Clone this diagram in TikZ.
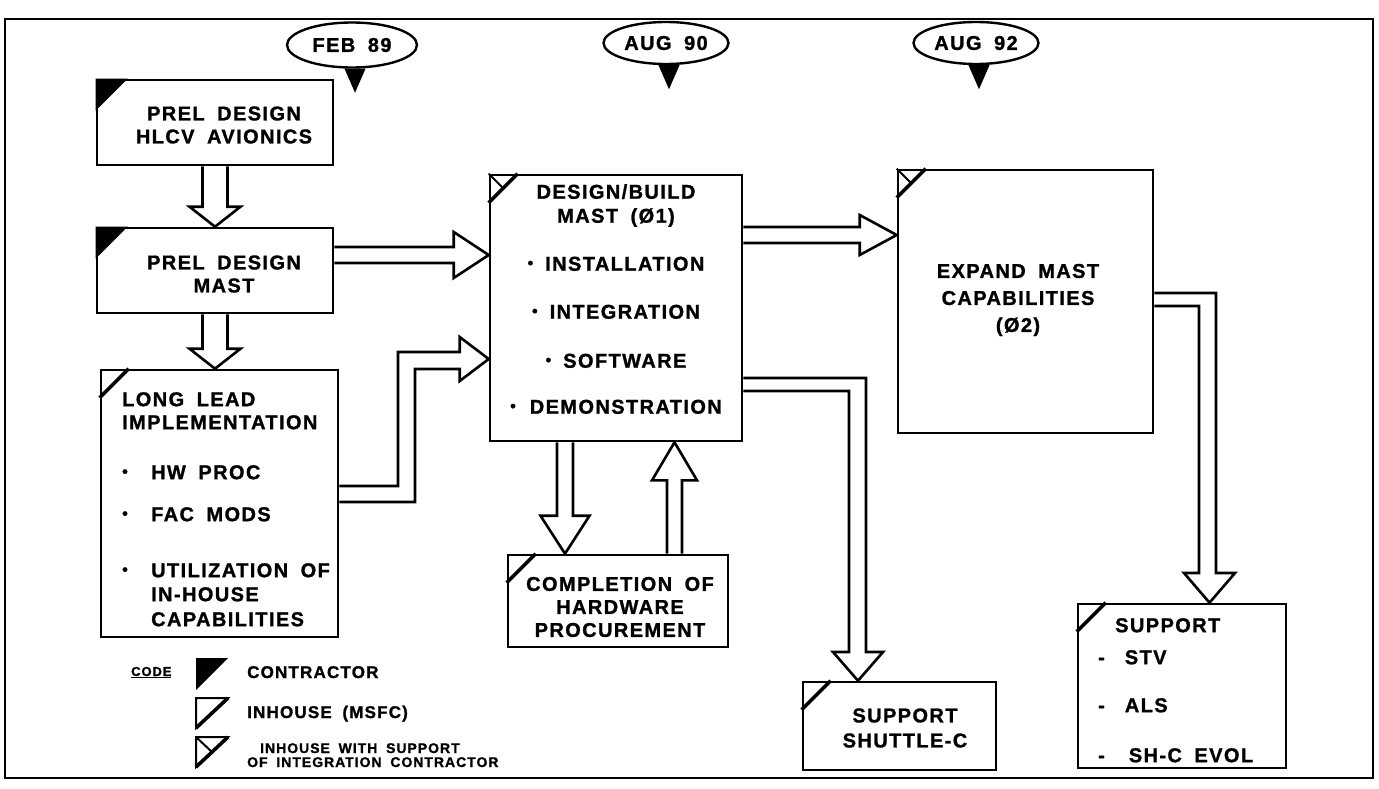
\documentclass[tikz,border=0pt]{standalone}
\usepackage{fontspec}
\setmainfont{Liberation Sans}[LetterSpace=7,WordSpace=1.8,BoldFeatures={FakeBold=1.2}]
\usetikzlibrary{calc,shapes.geometric}
\newcommand\bul{\raisebox{0.22ex}{\scalebox{0.8}{\textbullet}}}
\tikzset{
  frame/.style={line width=2.4pt},
  box/.style={draw, line width=2.6pt, inner sep=0pt},
  txt/.style={inner sep=0pt, font=\bfseries\fontsize{20}{23}\selectfont},
  stxt/.style={inner sep=0pt, font=\bfseries\fontsize{20}{25}\selectfont},
  ltxt/.style={inner sep=0pt, anchor=base west, font=\bfseries\fontsize{17}{20}\selectfont},
  mtxt/.style={inner sep=0pt, anchor=base west, font=\bfseries\fontsize{14}{16}\selectfont},
  mile/.style={draw, fill=white, ellipse, line width=2.4pt, inner sep=0pt, font=\bfseries\fontsize{20}{20}\selectfont},
  hyp/.style={line width=3.6pt},
  thin/.style={line width=2pt},
  harrow/.style={line width=2.6pt, line join=miter},
  hollow/.style n args={3}{to path={
    let \p1=(\tikztostart), \p2=(\tikztotarget),
        \n1={atan2(\y2-\y1,\x2-\x1)}, \n2={veclen(\x2-\x1,\y2-\y1)} in
    ([shift={(\p1)},rotate=\n1]0pt,#1pt)
    -- ([shift={(\p1)},rotate=\n1]\n2-#3pt,#1pt)
    -- ([shift={(\p1)},rotate=\n1]\n2-#3pt,#2pt)
    -- ([shift={(\p1)},rotate=\n1]\n2,0pt)
    -- ([shift={(\p1)},rotate=\n1]\n2-#3pt,-#2pt)
    -- ([shift={(\p1)},rotate=\n1]\n2-#3pt,-#1pt)
    -- ([shift={(\p1)},rotate=\n1]0pt,-#1pt)
  }},
}
\begin{document}
\begin{tikzpicture}[x=1pt,y=-1pt]
\useasboundingbox (0,0) rectangle (1379,788);
\fill[white] (0,0) rectangle (1379,788);
\draw[frame] (5,19) rectangle (1373,778);

% milestones
\node[mile, minimum width=130pt, minimum height=45pt] (m1) at (352,45) {FEB 89};
\node[mile, minimum width=125pt, minimum height=42pt] (m2) at (666,43) {AUG 90};
\node[mile, minimum width=125pt, minimum height=42pt] (m3) at (976,43) {AUG 92};
\foreach \m in {m1,m2,m3}{
  \draw[thin] ($(\m.south)+(3,0)$) -- ($(\m.south)+(3,0)$ |- 0,79) coordinate (\m a);
  \fill ($(\m a)+(-10.5,0)$) -- ($(\m a)+(10.5,0)$) -- ($(\m a)+(0,24)$) -- cycle;
}

% boxes
\node[box, minimum width=236pt, minimum height=85pt] (b1) at (215,122.5) {};
\node[box, minimum width=236pt, minimum height=85pt] (b2) at (215,270.5) {};
\node[box, minimum width=237pt, minimum height=267pt] (b3) at (219.5,503.5) {};
\node[box, minimum width=252pt, minimum height=266pt] (b4) at (616,308) {};
\node[box, minimum width=255pt, minimum height=263pt] (b5) at (1025.5,301.5) {};
\node[box, minimum width=220pt, minimum height=92pt] (b6) at (618,601) {};
\node[box, minimum width=193pt, minimum height=88pt] (b7) at (899.5,726) {};
\node[box, minimum width=208pt, minimum height=164pt] (b8) at (1182,686) {};

% corner codes
\foreach \b in {b1,b2}{
  \fill (\b.north west) -- ++(32,0) -- ++(-32,32) -- cycle;
}
\foreach \b in {b3,b6,b7,b8,b4,b5}{
  \draw[hyp] ($(\b.north west)+(29,0)$) -- ($(\b.north west)+(0,29)$);
}
\foreach \b in {b4,b5}{
  \draw[thin] (\b.north west) -- ++(14,14);
}

% texts
\node[txt, align=center] (t1) at (224,125) {PREL DESIGN\\HLCV AVIONICS};
\node[txt, align=center] (t2) at (224,274) {PREL DESIGN\\MAST};
\node[txt, anchor=north west, align=left] (t3) at (122,392) {LONG LEAD\\IMPLEMENTATION\\[27pt]%
\makebox[29pt][l]{\bul}HW PROC\\[19pt]%
\makebox[29pt][l]{\bul}FAC MODS\\[33pt]%
\makebox[29pt][l]{\bul}UTILIZATION OF\\[1pt]%
\hspace*{29pt}IN-HOUSE\\[2pt]%
\hspace*{29pt}CAPABILITIES};
\node[txt, anchor=north, align=center] (t4) at (616,184) {DESIGN/BUILD\\[1pt]MAST (Ø1)\\[25pt]%
\bul\hspace{12pt}INSTALLATION\\[25pt]%
\bul\hspace{12pt}INTEGRATION\\[26pt]%
\bul\hspace{12pt}SOFTWARE\\[23pt]%
\bul\hspace{14pt}DEMONSTRATION};
\node[txt, align=center] (t5) at (1018,300) {EXPAND MAST\\[4pt]CAPABILITIES\\[4pt](Ø2)};
\node[txt, align=center] (t6) at (620,607) {COMPLETION OF\\HARDWARE\\PROCUREMENT};
\node[stxt, align=center] (t7) at (905,728) {SUPPORT\\SHUTTLE-C};
\node[stxt, anchor=north west, align=left, font=\bfseries\fontsize{20}{21}\selectfont] (t8) at (1098,618) {\hspace*{17pt}SUPPORT\\[11pt]%
-\hspace{20pt}STV\\[27pt]%
-\hspace{20pt}ALS\\[29pt]%
-\hspace{24pt}SH-C EVOL};

% hollow arrows
\draw[harrow] (b1.south) to[hollow={12.5}{25.5}{20}] (b2.north);
\draw[harrow] (b2.south) to[hollow={12.5}{25.5}{20}] (b2.south |- b3.north);
\draw[harrow] (b2.east |- 0,255) to[hollow={8}{23}{35}] (b4.west |- 0,255);
\draw[harrow] (b4.east |- 0,235) to[hollow={8}{20}{37}] (b5.west |- 0,235);
\draw[harrow] (b4.south -| 565,0) to[hollow={8}{24.5}{38}] (b6.north -| 565,0);
\draw[harrow] (b6.north -| 674.5,0) to[hollow={7.5}{22.5}{38}] (b4.south -| 674.5,0);

\coordinate (a4s) at (b3.east |- 0,494);
\coordinate (a4t) at (b4.west |- 0,359);
\draw[harrow] ($(a4s)+(0,-8)$) -- (398,486) -- (398,352) -- ($(a4t)+(-29,-7)$) -- ($(a4t)+(-29,-22)$)
  -- (a4t) -- ($(a4t)+(-29,22)$) -- ($(a4t)+(-29,10)$) -- (415,369) -- (415,502) -- ($(a4s)+(0,8)$);

\coordinate (a6t) at (b7.north -| 858,0);
\draw[harrow] (b4.east |- 0,378) -- (866,378) -- (866,652) -- (883,652) -- (a6t)
  -- (833,652) -- (849,652) -- (849,391) -- (b4.east |- 0,391);

\coordinate (a9t) at (b8.north -| 1209.5,0);
\draw[harrow] (b5.east |- 0,293) -- (1216,293) -- (1216,573) -- (1235,573) -- (a9t)
  -- (1184,573) -- (1199,573) -- (1199,306) -- (b5.east |- 0,306);

% legend
\node[ltxt, font=\bfseries\fontsize{13}{13}\selectfont] (code) at (131,676) {\underline{CODE}};
\fill (196,658) -- (228,658) -- (196,690) -- cycle;
\draw[thin] (196,698) -- (228,698) -- (196,728) -- cycle;
\draw[hyp] (228,698) -- (196,728);
\draw[thin] (196,737) -- (228,737) -- (196,767) -- cycle;
\draw[hyp] (228,737) -- (196,767);
\draw[thin] (196,737) -- (212,752);
\node[ltxt] (l1) at (247,678) {CONTRACTOR};
\node[ltxt] (l2) at (247,718) {INHOUSE (MSFC)};
\node[mtxt] (l3) at (260,753) {INHOUSE WITH SUPPORT};
\node[mtxt] (l4) at (247,767) {OF INTEGRATION CONTRACTOR};
\end{tikzpicture}
\end{document}
